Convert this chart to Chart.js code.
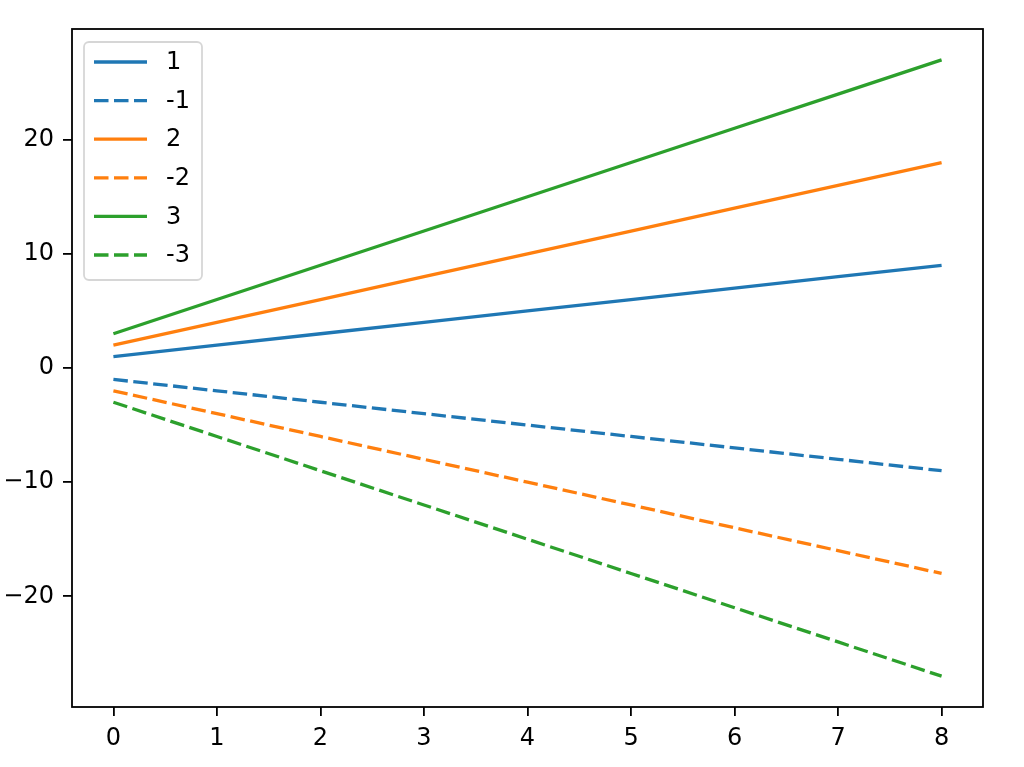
<!DOCTYPE html>
<html>
<head>
<meta charset="utf-8">
<script src="https://cdn.jsdelivr.net/npm/chart.js@4"></script>
<style>
  html, body { margin: 0; padding: 0; background: #fff; }
  #wrap { width: 1024px; height: 767px; }
</style>
</head>
<body>
<div id="wrap"><canvas id="lineChart"></canvas></div>
<script>
// data
let xVals = [0, 1, 2, 3, 4, 5, 6, 7, 8];
let seriesLabels = ['1', '-1', '2', '-2', '3', '-3'];
let pos1 = [1, 2, 3, 4, 5, 6, 7, 8, 9];
let neg1 = [-1, -2, -3, -4, -5, -6, -7, -8, -9];
let pos2 = [2, 4, 6, 8, 10, 12, 14, 16, 18];
let neg2 = [-2, -4, -6, -8, -10, -12, -14, -16, -18];
let pos3 = [3, 6, 9, 12, 15, 18, 21, 24, 27];
let neg3 = [-3, -6, -9, -12, -15, -18, -21, -24, -27];
let xTicks = [0, 1, 2, 3, 4, 5, 6, 7, 8];
let yTicks = [-20, -10, 0, 10, 20];

const blue = '#1f77b4', orange = '#ff7f0e', green = '#2ca02c';
const dash = [14.5, 5.5];
const lw = 3.3;

function pts(ys) {
  return xVals.map((x, i) => ({ x: x, y: ys[i] }));
}

function makeSet(label, ys, color, dashed) {
  return {
    label: label,
    data: pts(ys),
    borderColor: color,
    backgroundColor: color,
    borderWidth: lw,
    borderDash: dashed ? dash : [],
    borderCapStyle: 'butt',
    pointRadius: 0,
    tension: 0,
    fill: false
  };
}

const lineChartdata = {
  datasets: [
    makeSet(seriesLabels[0], pos1, blue, false),
    makeSet(seriesLabels[1], neg1, blue, true),
    makeSet(seriesLabels[2], pos2, orange, false),
    makeSet(seriesLabels[3], neg2, orange, true),
    makeSet(seriesLabels[4], pos3, green, false),
    makeSet(seriesLabels[5], neg3, green, true)
  ]
};

// box around the plot + matplotlib style legend inside the axes
const frameAndLegend = {
  id: 'frameAndLegend',
  afterDraw(chart) {
    const ctx = chart.ctx;
    const a = chart.chartArea;
    ctx.save();
    ctx.strokeStyle = '#000';
    ctx.lineWidth = 1.8;
    ctx.strokeRect(a.left, a.top, a.right - a.left, a.bottom - a.top);

    // legend
    const bx = 84, by = 42, bw = 118, bh = 238;
    ctx.fillStyle = 'rgba(255,255,255,0.8)';
    ctx.strokeStyle = 'rgba(204,204,204,0.8)';
    ctx.lineWidth = 1.8;
    ctx.beginPath();
    ctx.roundRect(bx, by, bw, bh, 5);
    ctx.fill();
    ctx.stroke();

    ctx.font = '24px "DejaVu Sans"';
    ctx.textBaseline = 'middle';
    ctx.textAlign = 'left';
    chart.data.datasets.forEach((ds, i) => {
      const y = 62 + i * 38.6;
      ctx.strokeStyle = ds.borderColor;
      ctx.lineWidth = lw;
      ctx.setLineDash(ds.borderDash);
      ctx.beginPath();
      ctx.moveTo(94, y);
      ctx.lineTo(147, y);
      ctx.stroke();
      ctx.setLineDash([]);
      ctx.fillStyle = '#000';
      ctx.fillText(ds.label, 166, y + 1);
    });
    ctx.restore();
  }
};

const configLineChart = {
  type: 'line',
  data: lineChartdata,
  options: {
    responsive: true,
    maintainAspectRatio: false,
    animation: false,
    layout: { padding: { top: 29, right: 41, left: 0, bottom: 0 } },
    plugins: {
      legend: { display: false },
      tooltip: { enabled: false }
    },
    scales: {
      x: {
        type: 'linear',
        min: -0.4,
        max: 8.4,
        afterBuildTicks: (s) => { s.ticks = xTicks.map(v => ({ value: v })); },
        afterFit: (s) => { s.height = 60; },
        grid: { drawOnChartArea: false, color: '#000', lineWidth: 1.8, tickLength: 9 },
        border: { display: false },
        ticks: {
          color: '#000',
          padding: 8,
          maxRotation: 0,
          font: { family: 'DejaVu Sans', size: 24 },
          callback: (v) => String(v)
        }
      },
      y: {
        type: 'linear',
        min: -29.7,
        max: 29.7,
        afterBuildTicks: (s) => { s.ticks = yTicks.map(v => ({ value: v })); },
        afterFit: (s) => { s.width = 72; },
        grid: { drawOnChartArea: false, color: '#000', lineWidth: 1.8, tickLength: 9 },
        border: { display: false },
        ticks: {
          color: '#000',
          padding: 9,
          font: { family: 'DejaVu Sans', size: 24 },
          callback: (v) => (v < 0 ? '\u2212' + Math.abs(v) : String(v))
        }
      }
    }
  },
  plugins: [frameAndLegend]
};

let lineChart = new Chart(
  document.getElementById('lineChart'),
  configLineChart
);
</script>
</body>
</html>
